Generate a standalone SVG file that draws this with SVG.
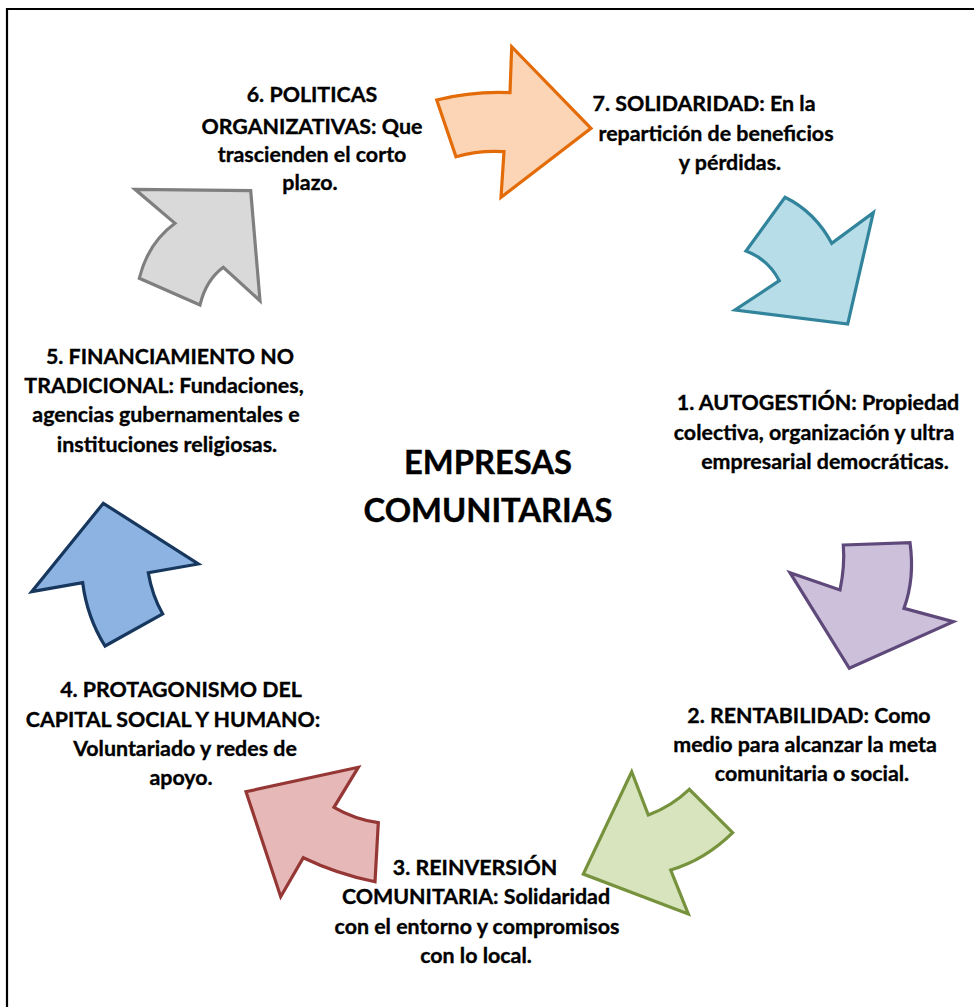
<svg xmlns="http://www.w3.org/2000/svg" width="974" height="1007" viewBox="0 0 974 1007">
<style>
.t{font-family:"Lato","Liberation Sans",sans-serif;font-weight:bold;font-size:21.4px;fill:#000;stroke:#000;stroke-width:0.35;text-anchor:middle}
.title{font-family:"Lato","Liberation Sans",sans-serif;font-weight:bold;font-size:32.7px;fill:#000;stroke:#000;stroke-width:0.4;text-anchor:middle}
.ar{stroke-width:3.2;stroke-linejoin:miter}
</style>
<rect x="0" y="0" width="974" height="1007" fill="#fff"/>
<path d="M7,1010 L7,9 L980,9" fill="none" stroke="#000" stroke-width="2.2"/>
<g id="arrows">
<g id="arrow7"><path class="ar" fill="#FBD5B5" stroke="#E36C09" d="M436.7,100 Q473,91 510,92.7 L511.7,46.7 L591,128.3 L501,197.3 L504,151.7 Q480,150 456,156.7 Z"/></g>
<g id="arrow1"><path class="ar" fill="#B7DDE8" stroke="#31849B" d="M785,197.3 Q815,212 831.7,243.3 L873.3,212.7 L847.7,324 L735,310 L779.3,280.7 Q768,259 746,251 Z"/></g>
<g id="arrow2"><path class="ar" fill="#CCC0DA" stroke="#5F497A" d="M843.3,545 L910,542.7 Q915,578 904,608.3 L953.3,621.7 L849.3,668.3 L790,572.7 L840,590 Q845,566 843.3,545 Z"/></g>
<g id="arrow3"><path class="ar" fill="#D7E4BD" stroke="#76923C" d="M631.7,771.7 L648.3,815 Q672,806 689.3,789.3 L732.7,832.7 Q705,860 670.7,870 L688.3,914 L583.3,874 Z"/></g>
<g id="arrow4"><path class="ar" fill="#E6B9B8" stroke="#953735" d="M358.3,767.3 L334,807.3 Q354,819 378.3,822.7 L375,881.7 Q337,874 303.3,857.7 L280.7,896.7 L246,791.7 Z"/></g>
<g id="arrow5"><path class="ar" fill="#8DB3E2" stroke="#17375E" d="M103.3,503.3 L198.3,564 L148.3,572.7 Q152,595 162.7,614 L105,646 Q87,617 82.7,582.7 L31.7,591.7 Z"/></g>
<g id="arrow6"><path class="ar" fill="#D9D9D9" stroke="#7F7F7F" d="M135,189.3 L250.7,190.7 L260,300.7 L223.3,267.3 Q206,280 200,305 L139.3,278.3 Q148,243 175,223.3 Z"/></g>
</g>
<g id="center">
<text class="title" x="488" y="474">EMPRESAS</text>
<text class="title" x="488" y="522">COMUNITARIAS</text>
</g>
<g id="n6">
<text class="t" x="312" y="102">6. POLITICAS</text>
<text class="t" x="312" y="134">ORGANIZATIVAS: Que</text>
<text class="t" x="312" y="162">trascienden el corto</text>
<text class="t" x="310" y="190">plazo.</text>
</g>
<g id="n7">
<text class="t" x="704" y="111">7. SOLIDARIDAD: En la</text>
<text class="t" x="716" y="141">repartición de beneficios</text>
<text class="t" x="730" y="170">y pérdidas.</text>
</g>
<g id="n5">
<text class="t" x="170" y="364">5. FINANCIAMIENTO NO</text>
<text class="t" x="164" y="393">TRADICIONAL: Fundaciones,</text>
<text class="t" x="166" y="422">agencias gubernamentales e</text>
<text class="t" x="167" y="452">instituciones religiosas.</text>
</g>
<g id="n1">
<text class="t" x="818" y="410">1. AUTOGESTIÓN: Propiedad</text>
<text class="t" x="814" y="440">colectiva, organización y ultra</text>
<text class="t" x="825" y="469">empresarial democráticas.</text>
</g>
<g id="n4">
<text class="t" x="181" y="697">4. PROTAGONISMO DEL</text>
<text class="t" x="173" y="727">CAPITAL SOCIAL Y HUMANO:</text>
<text class="t" x="185" y="756">Voluntariado y redes de</text>
<text class="t" x="181" y="785">apoyo.</text>
</g>
<g id="n2">
<text class="t" x="809" y="723">2. RENTABILIDAD: Como</text>
<text class="t" x="805" y="752">medio para alcanzar la meta</text>
<text class="t" x="812" y="781">comunitaria o social.</text>
</g>
<g id="n3">
<text class="t" x="475" y="875">3. REINVERSIÓN</text>
<text class="t" x="476" y="904">COMUNITARIA: Solidaridad</text>
<text class="t" x="477" y="934">con el entorno y compromisos</text>
<text class="t" x="476" y="963">con lo local.</text>
</g>
</svg>
